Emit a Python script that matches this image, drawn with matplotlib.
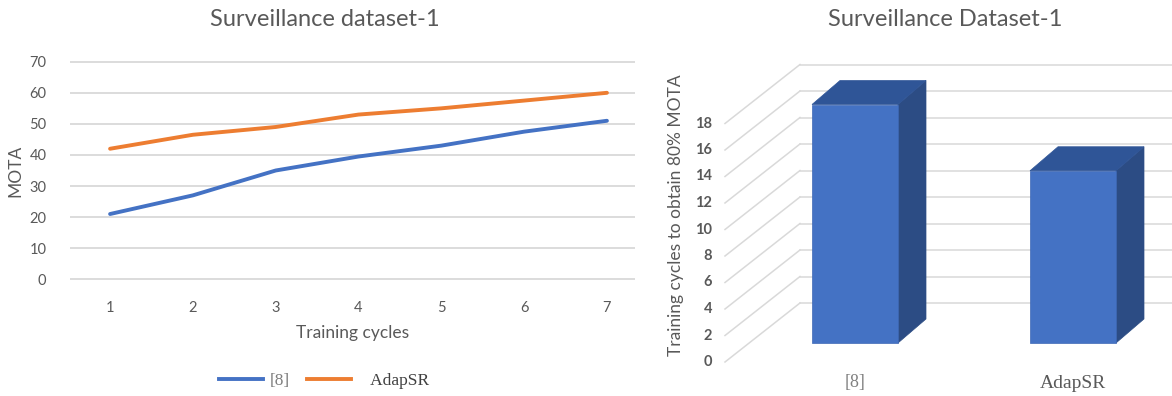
import matplotlib.pyplot as plt
from matplotlib.patches import Polygon
from matplotlib.lines import Line2D

# ---- data ----
cycles = [1, 2, 3, 4, 5, 6, 7]
mota_ref8 = [21, 27, 35, 39.5, 43, 47.5, 51]
mota_adapsr = [42, 46.5, 49, 53, 55, 57.5, 60]
line_labels = ["[8]", "AdapSR"]
mota_ticks = [0, 10, 20, 30, 40, 50, 60, 70]

methods = ["[8]", "AdapSR"]
cycles_to_80 = [18, 13]
bar_ticks = [0, 2, 4, 6, 8, 10, 12, 14, 16, 18]

BLUE = "#4472C4"
ORANGE = "#ED7D31"
GRID = "#D9D9D9"
TXT = "#595959"
W, H = 1172, 396

plt.rcParams['font.family'] = ['Lato', 'DejaVu Sans']
fig = plt.figure(figsize=(W / 100, H / 100), dpi=100)


def px_box(x0, y0, x1, y1):
    # pixel box (top-left origin) -> figure fraction rect
    return [x0 / W, 1 - y1 / H, (x1 - x0) / W, (y1 - y0) / H]


# ---------------- left: line chart ----------------
ax = fig.add_axes(px_box(70, 58, 635, 283))
ax.set_xlim(0.516, 7.339)
ax.set_ylim(-1.2, 71.2)
for t in mota_ticks:
    ax.plot([0.516, 7.339], [t, t], color=GRID, lw=1.3, zorder=0)
ax.plot(cycles, mota_ref8, color=BLUE, lw=2.8, solid_capstyle='round', clip_on=False)
ax.plot(cycles, mota_adapsr, color=ORANGE, lw=2.8, solid_capstyle='round', clip_on=False)
ax.set_yticks(mota_ticks)
ax.set_xticks(cycles)
for s in ax.spines.values():
    s.set_visible(False)
ax.tick_params(length=0, labelsize=10.5, labelcolor=TXT)
ax.tick_params(axis='y', pad=17)
ax.tick_params(axis='x', pad=13)
ax.set_ylabel("MOTA", fontsize=12.5, color=TXT, labelpad=4)
ax.set_xlabel("Training cycles", fontsize=12.5, color=TXT, labelpad=7)
fig.text(325 / W, 1 - 20 / H, "Surveillance dataset-1", ha='center', va='center',
         fontsize=17, color=TXT)

handles = [Line2D([], [], color=BLUE, lw=2.8), Line2D([], [], color=ORANGE, lw=2.8)]
leg = fig.legend(handles, [line_labels[0], "   " + line_labels[1]], loc='center',
                 bbox_to_anchor=(324 / W, 1 - 381 / H), ncol=2, frameon=False,
                 handlelength=2.5, handletextpad=0.4, columnspacing=1.0,
                 prop={'family': 'Liberation Serif', 'size': 12.5})
leg.get_texts()[0].set_color("#7F7F7F")
leg.get_texts()[1].set_color("#404040")

# ---------------- right: pseudo 3D bar chart ----------------
bx = fig.add_axes(px_box(640, 40, 1172, 396))
CPX, VPX = 218.0, 13.25          # pixels per category step / per value unit
C0 = 855.0                        # pixel x of first category
bx.set_xlim((640 - C0) / CPX, (1172 - C0) / CPX)
bx.set_ylim(-(396 - 362) / VPX, (362 - 40) / VPX)
bx.axis('off')

wall_dx, wall_dy = 75 / CPX, 59 / VPX      # depth offset of back wall
front_x = (725 - C0) / CPX
wall_right = (1172 - C0) / CPX
for t in bar_ticks:
    bx.plot([front_x, front_x + wall_dx], [t, t + wall_dy], color=GRID, lw=1.1, zorder=1)
    bx.plot([front_x + wall_dx, wall_right], [t + wall_dy, t + wall_dy],
            color=GRID, lw=1.1, zorder=1)
    bx.text(front_x - 13 / CPX, t, str(t), ha='right', va='center',
            fontsize=10.5, color=TXT, fontweight='bold')

bar_w = 86 / CPX
base = 19 / VPX                  # floor height at bar front
side_dx, side_dy = 28 / CPX, 24 / VPX
for i, (m, v) in enumerate(zip(methods, cycles_to_80)):
    x0, x1 = i - bar_w / 2, i + bar_w / 2
    y0, y1 = base, base + v
    front = [(x0, y0), (x1, y0), (x1, y1), (x0, y1)]
    side = [(x1, y0), (x1 + side_dx, y0 + side_dy), (x1 + side_dx, y1 + side_dy), (x1, y1)]
    top = [(x0, y1), (x1, y1), (x1 + side_dx, y1 + side_dy), (x0 + side_dx, y1 + side_dy)]
    bx.add_patch(Polygon(side, closed=True, fc="#2C4C84", ec="#2C4C84", lw=0.5, zorder=3))
    bx.add_patch(Polygon(top, closed=True, fc="#2F5597", ec="#2F5597", lw=0.5, zorder=3))
    bx.add_patch(Polygon(front, closed=True, fc=BLUE, ec="#3E68B5", lw=0.5, zorder=4))
    bx.text(i, -(383 - 362) / VPX, m, ha='center', va='center',
            family='Liberation Serif', fontsize=14 if i else 13,
            color="#595959" if i else "#808080")

bx.text((676 - C0) / CPX, (362 - 215) / VPX, "Training cycles to obtain 80% MOTA",
        rotation=90, ha='center', va='center', fontsize=12.5, color=TXT)
fig.text(945 / W, 1 - 20 / H, "Surveillance Dataset-1", ha='center', va='center',
         fontsize=17, color=TXT)

fig.savefig("out.png", dpi=100)
